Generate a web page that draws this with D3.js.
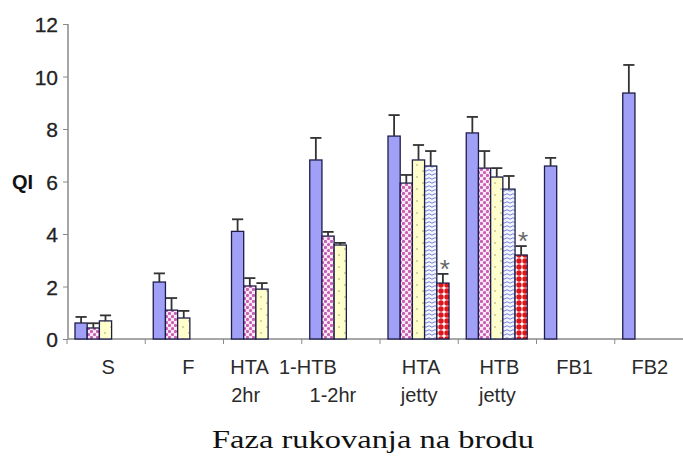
<!DOCTYPE html>
<html>
<head>
<meta charset="utf-8">
<script src="https://cdn.jsdelivr.net/npm/d3@7"></script>
<style>
  body { margin: 0; background: #fff; }
  svg { display: block; }
</style>
</head>
<body>
<div id="chart"></div>
<script>
// categories (x axis), each label split into lines
var categories = ["S", "F", "HTA 2hr", "HTB 1-2hr", "HTA jetty", "HTB jetty", "FB1", "FB2"];
var tickLines = [["S"], ["F"], ["HTA", "2hr"], ["1-HTB", "1-2hr"], ["HTA", "jetty"], ["HTB", "jetty"], ["FB1"], ["FB2"]];
var yTicks = [0, 2, 4, 6, 8, 10, 12];

// mean QI per series, null = no bar
var series1 = [0.61, 2.17, 4.10, 6.82, 7.73, 7.85, 6.59, 9.37];
var series2 = [0.42, 1.10, 2.02, 3.92, 5.94, 6.51, null, null];
var series3 = [0.69, 0.80, 1.90, 3.58, 6.82, 6.17, null, null];
var series4 = [null, null, null, null, 6.59, 5.71, null, null];
var series5 = [null, null, null, null, 2.13, 3.20, null, null];

// error bar sizes (upper only)
var err1 = [0.23, 0.33, 0.46, 0.84, 0.80, 0.61, 0.31, 1.07];
var err2 = [0.18, 0.46, 0.30, 0.16, 0.31, 0.65, null, null];
var err3 = [0.21, 0.27, 0.23, 0.08, 0.57, 0.34, null, null];
var err4 = [null, null, null, null, 0.57, 0.50, null, null];
var err5 = [null, null, null, null, 0.35, 0.34, null, null];

// significance markers over series 5
var starred = ["HTA jetty", "HTB jetty"];

var width = 683, height = 456;

var svg = d3.select('#chart').append('svg')
    .attr('width', width)
    .attr('height', height);

var defs = svg.append('defs');

// pink knit-like dots
var p2 = defs.append('pattern').attr('id', 'pat2').attr('patternUnits', 'userSpaceOnUse')
    .attr('width', 6).attr('height', 6);
p2.append('rect').attr('width', 6).attr('height', 6).attr('fill', '#fbeaf6');
p2.append('circle').attr('cx', 1.5).attr('cy', 1.5).attr('r', 1.6).attr('fill', '#c95fb4');
p2.append('circle').attr('cx', 4.5).attr('cy', 4.5).attr('r', 1.6).attr('fill', '#c95fb4');

// pale yellow with sparse dots
var p3 = defs.append('pattern').attr('id', 'pat3').attr('patternUnits', 'userSpaceOnUse')
    .attr('width', 12).attr('height', 12);
p3.append('rect').attr('width', 12).attr('height', 12).attr('fill', '#ffffcc');
p3.append('circle').attr('cx', 3).attr('cy', 3).attr('r', 0.8).attr('fill', '#9a9a80');
p3.append('circle').attr('cx', 9).attr('cy', 9).attr('r', 0.8).attr('fill', '#9a9a80');

// light blue scallops
var p4 = defs.append('pattern').attr('id', 'pat4').attr('patternUnits', 'userSpaceOnUse')
    .attr('width', 6).attr('height', 4);
p4.append('rect').attr('width', 6).attr('height', 4).attr('fill', '#f4f6ff');
p4.append('path').attr('d', 'M0,3.2 Q3,0.2 6,3.2').attr('fill', 'none')
    .attr('stroke', '#7483dc').attr('stroke-width', 1);

// red polka dots
var p5 = defs.append('pattern').attr('id', 'pat5').attr('patternUnits', 'userSpaceOnUse')
    .attr('width', 6).attr('height', 6);
p5.append('rect').attr('width', 6).attr('height', 6).attr('fill', '#fff');
p5.append('circle').attr('cx', 3).attr('cy', 3).attr('r', 2.7).attr('fill', '#e0141a');

var fills = ['#a0a0f6', 'url(#pat2)', 'url(#pat3)', 'url(#pat4)', 'url(#pat5)'];

var allSeries = [series1, series2, series3, series4, series5];
var allErr = [err1, err2, err3, err4, err5];

var x = d3.scaleBand().domain(categories).range([67, 693]);
var xInner = d3.scaleBand().domain(d3.range(allSeries.length)).range([8, 69]);
var y = d3.scaleLinear().domain([0, 12]).range([339, 24]);

// flatten into bar records
var bars = [];
allSeries.forEach(function (s, si) {
    s.forEach(function (v, ci) {
        if (v != null) bars.push({ cat: categories[ci], s: si, value: v, err: allErr[si][ci] });
    });
});

// axes
var axisColor = '#8a8a8a';
var yAxis = svg.append('g').attr('transform', 'translate(68,0)')
    .call(d3.axisLeft(y).tickValues(yTicks).tickSize(5).tickFormat(d3.format('d')));
yAxis.select('.domain').attr('stroke', axisColor).attr('stroke-width', 1.5).attr('d', 'M0,' + y(12) + 'V' + y(0));
yAxis.selectAll('.tick line').attr('stroke', axisColor);
yAxis.selectAll('.tick text')
    .attr('font-family', 'Liberation Sans, Arial, sans-serif')
    .attr('font-size', 21).attr('fill', '#222').attr('x', -10).attr('dy', '0.36em')
    .attr('stroke', '#222').attr('stroke-width', 0.3);

svg.append('text').attr('x', 12).attr('y', 189)
    .attr('font-family', 'Liberation Sans, Arial, sans-serif')
    .attr('font-size', 20).attr('font-weight', 'bold').attr('fill', '#111')
    .text('QI');

var xAxisG = svg.append('g').attr('transform', 'translate(0,' + y(0) + ')');
xAxisG.append('line').attr('x1', 68).attr('x2', width).attr('stroke', axisColor).attr('stroke-width', 1.5);
xAxisG.selectAll('.xt').data(categories).enter().append('line')
    .attr('class', 'xt')
    .attr('x1', d => x(d)).attr('x2', d => x(d))
    .attr('y1', 0).attr('y2', 5)
    .attr('stroke', axisColor);

// bars
svg.append('g').selectAll('rect').data(bars).enter().append('rect')
    .attr('x', d => x(d.cat) + xInner(d.s))
    .attr('y', d => y(d.value))
    .attr('width', xInner.bandwidth())
    .attr('height', d => y(0) - y(d.value))
    .attr('fill', d => fills[d.s])
    .attr('stroke', '#1d1d4a')
    .attr('stroke-width', 1.3);

// error bars
var eb = svg.append('g').selectAll('g').data(bars.filter(d => d.err != null)).enter().append('g')
    .attr('stroke', '#333').attr('stroke-width', 1.8);
eb.append('line')
    .attr('x1', d => x(d.cat) + xInner(d.s) + xInner.bandwidth() / 2)
    .attr('x2', d => x(d.cat) + xInner(d.s) + xInner.bandwidth() / 2)
    .attr('y1', d => y(d.value))
    .attr('y2', d => y(d.value + d.err));
eb.append('line')
    .attr('x1', d => x(d.cat) + xInner(d.s) + 0.5)
    .attr('x2', d => x(d.cat) + xInner(d.s) + xInner.bandwidth() - 0.5)
    .attr('y1', d => y(d.value + d.err))
    .attr('y2', d => y(d.value + d.err));

// asterisks
svg.append('g').selectAll('text').data(bars.filter(d => d.s === 4 && starred.indexOf(d.cat) >= 0))
    .enter().append('text')
    .attr('x', d => x(d.cat) + xInner(d.s) + xInner.bandwidth() / 2 + 2)
    .attr('y', d => y(d.value + d.err) + 4)
    .attr('text-anchor', 'middle')
    .attr('font-family', 'Liberation Sans, Arial, sans-serif')
    .attr('font-size', 26).attr('fill', '#666')
    .text('*');

// category labels (several of the original labels sit off-centre)
var labelShift = [[2], [4], [-13, -17], [-33, -8], [2, 0], [2, 0], [-1], [-4]];
var lab = svg.append('g')
    .attr('font-family', 'Liberation Sans, Arial, sans-serif')
    .attr('font-size', 20).attr('fill', '#2a2a2a').attr('text-anchor', 'middle');
categories.forEach(function (c, i) {
    tickLines[i].forEach(function (t, j) {
        lab.append('text')
            .attr('x', x(c) + x.bandwidth() / 2 + labelShift[i][j])
            .attr('y', 374 + j * 28)
            .text(t);
    });
});

svg.append('text')
    .attr('x', 373).attr('y', 448)
    .attr('text-anchor', 'middle')
    .attr('font-family', 'Liberation Serif, Times New Roman, serif')
    .attr('font-size', 26).attr('fill', '#111')
    .attr('textLength', 322).attr('lengthAdjust', 'spacingAndGlyphs')
    .text('Faza rukovanja na brodu');
</script>
</body>
</html>
